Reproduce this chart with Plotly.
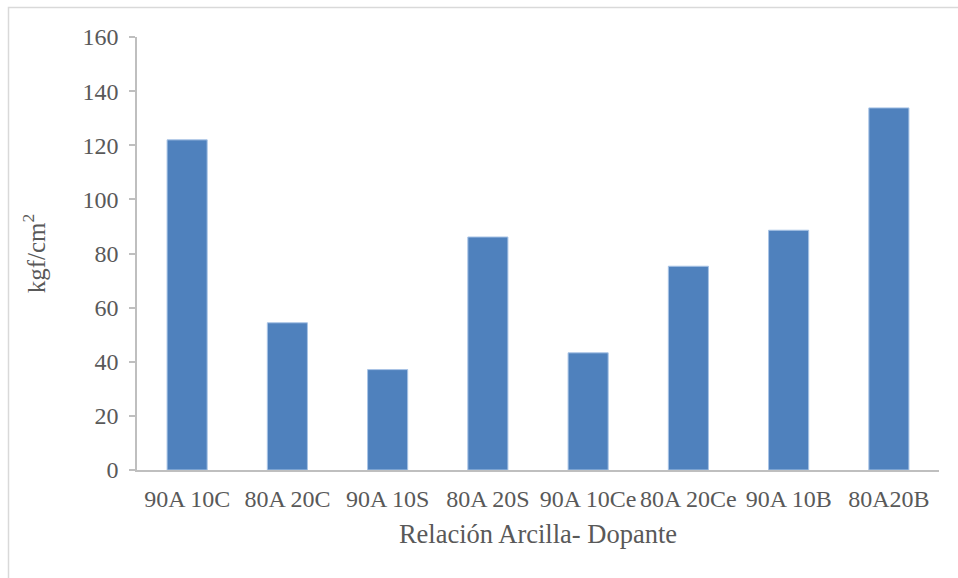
import plotly.graph_objects as go

categories = ["90A 10C", "80A 20C", "90A 10S", "80A 20S", "90A 10Ce", "80A 20Ce", "90A 10B", "80A20B"]
values = [122.0, 54.4, 37.1, 86.1, 43.3, 75.3, 88.6, 133.8]
y_ticks = [0, 20, 40, 60, 80, 100, 120, 140, 160]

W, H = 958, 578
L, R, T, B = 137, 19, 37, 108
pw, ph = W - L - R, H - T - B

fig = go.Figure(go.Bar(
    x=categories, y=values,
    marker=dict(color="#4f81bd", line=dict(color="#a9c4e6", width=1)),
))

def px_x(v):
    return (v - L) / pw

def px_y(v):
    return (H - B - v) / ph

# outer chart frame (light grey border)
fig.add_shape(type="rect", xref="paper", yref="paper",
              x0=px_x(8.5), x1=px_x(1000), y0=px_y(7.5), y1=px_y(700),
              line=dict(color="#d9d9d9", width=1.5), fillcolor="rgba(0,0,0,0)", layer="below")

serif = "Liberation Serif"
grey = "#595959"
fig.update_layout(
    width=W, height=H,
    margin=dict(l=L, r=R, t=T, b=B),
    paper_bgcolor="white", plot_bgcolor="white",
    bargap=0.6,
    showlegend=False,
    font=dict(family=serif, color=grey, size=23),
    xaxis=dict(
        showline=True, linecolor="#bfbfbf", linewidth=1.5,
        ticks="", showgrid=False,
        ticklabelstandoff=6,
        tickfont=dict(family=serif, size=24, color=grey),
        title=dict(text="Relación Arcilla- Dopante", font=dict(family=serif, size=26.5, color=grey), standoff=14),
    ),
    yaxis=dict(
        range=[0, 160], tickvals=y_ticks,
        showline=True, linecolor="#bfbfbf", linewidth=1.5,
        ticks="outside", ticklen=6, tickcolor="#bfbfbf", tickwidth=1.5,
        ticklabelstandoff=6,
        showgrid=False, zeroline=False,
        tickfont=dict(family=serif, size=24, color=grey),
        title=dict(text="kgf/cm<sup>2</sup>", font=dict(family=serif, size=25, color=grey), standoff=30),
    ),
)

fig.write_html("out.html")
